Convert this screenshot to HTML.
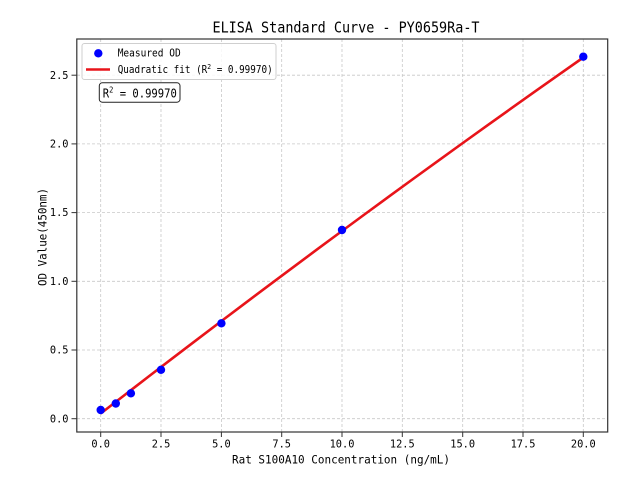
<!DOCTYPE html>
<html>
<head>
<meta charset="utf-8">
<style>
html,body{margin:0;padding:0;background:#fff;}
svg{display:block;}
text{font-family:"DejaVu Sans Mono","Liberation Mono",monospace;fill:#000;}
</style>
</head>
<body>
<svg width="640" height="480" viewBox="0 0 640 480" xmlns="http://www.w3.org/2000/svg">
<rect x="0" y="0" width="640" height="480" fill="#fff"/>
<!-- grid -->
<g stroke="#c8c8c8" stroke-width="0.8" stroke-dasharray="3,2" fill="none">
<line x1="100.7" y1="39" x2="100.7" y2="432"/>
<line x1="161.0" y1="39" x2="161.0" y2="432"/>
<line x1="221.4" y1="39" x2="221.4" y2="432"/>
<line x1="281.7" y1="39" x2="281.7" y2="432"/>
<line x1="342.0" y1="39" x2="342.0" y2="432"/>
<line x1="402.3" y1="39" x2="402.3" y2="432"/>
<line x1="462.7" y1="39" x2="462.7" y2="432"/>
<line x1="523.0" y1="39" x2="523.0" y2="432"/>
<line x1="583.3" y1="39" x2="583.3" y2="432"/>
<line x1="77" y1="418.7" x2="608" y2="418.7"/>
<line x1="77" y1="350.0" x2="608" y2="350.0"/>
<line x1="77" y1="281.3" x2="608" y2="281.3"/>
<line x1="77" y1="212.6" x2="608" y2="212.6"/>
<line x1="77" y1="143.9" x2="608" y2="143.9"/>
<line x1="77" y1="75.2" x2="608" y2="75.2"/>
</g>
<!-- fit curve -->
<polyline fill="none" stroke="#e8141a" stroke-width="2.6" stroke-linejoin="round" stroke-linecap="butt"
points="100.7,413.5 124.83,394.85 148.96,376.28 173.09,357.81 197.22,339.42 221.35,321.13 245.48,302.92 269.61,284.81 293.74,266.78 317.87,248.85 342.0,231.0 366.13,213.25 390.26,195.58 414.39,178.0 438.52,160.52 462.65,143.13 486.78,125.82 510.91,108.61 535.04,91.48 559.17,74.45 583.3,57.5"/>
<!-- points -->
<g fill="#0000ff">
<circle cx="100.7" cy="410" r="4.2"/>
<circle cx="115.8" cy="403.5" r="4.2"/>
<circle cx="130.9" cy="393.3" r="4.2"/>
<circle cx="161.0" cy="369.8" r="4.2"/>
<circle cx="221.4" cy="323.3" r="4.2"/>
<circle cx="342.0" cy="230.0" r="4.2"/>
<circle cx="583.3" cy="56.7" r="4.2"/>
</g>
<!-- spines -->
<rect x="76.8" y="39" width="530.9" height="393" fill="none" stroke="#333" stroke-width="1.2"/>
<!-- ticks -->
<g stroke="#333" stroke-width="1">
<line x1="100.7" y1="432" x2="100.7" y2="437"/>
<line x1="161.0" y1="432" x2="161.0" y2="437"/>
<line x1="221.4" y1="432" x2="221.4" y2="437"/>
<line x1="281.7" y1="432" x2="281.7" y2="437"/>
<line x1="342.0" y1="432" x2="342.0" y2="437"/>
<line x1="402.3" y1="432" x2="402.3" y2="437"/>
<line x1="462.7" y1="432" x2="462.7" y2="437"/>
<line x1="523.0" y1="432" x2="523.0" y2="437"/>
<line x1="583.3" y1="432" x2="583.3" y2="437"/>
<line x1="71.5" y1="418.7" x2="76.8" y2="418.7"/>
<line x1="71.5" y1="350.0" x2="76.8" y2="350.0"/>
<line x1="71.5" y1="281.3" x2="76.8" y2="281.3"/>
<line x1="71.5" y1="212.6" x2="76.8" y2="212.6"/>
<line x1="71.5" y1="143.9" x2="76.8" y2="143.9"/>
<line x1="71.5" y1="75.2" x2="76.8" y2="75.2"/>
</g>
<!-- x tick labels -->
<g font-size="10.3" text-anchor="middle">
<text x="100.7" y="447.5">0.0</text>
<text x="161.0" y="447.5">2.5</text>
<text x="221.4" y="447.5">5.0</text>
<text x="281.7" y="447.5">7.5</text>
<text x="342.0" y="447.5">10.0</text>
<text x="402.3" y="447.5">12.5</text>
<text x="462.7" y="447.5">15.0</text>
<text x="523.0" y="447.5">17.5</text>
<text x="583.3" y="447.5">20.0</text>
</g>
<!-- y tick labels -->
<g font-size="10.3" text-anchor="end">
<text x="68.5" y="422.3">0.0</text>
<text x="68.5" y="353.6">0.5</text>
<text x="68.5" y="284.9">1.0</text>
<text x="68.5" y="216.2">1.5</text>
<text x="68.5" y="147.5">2.0</text>
<text x="68.5" y="78.8">2.5</text>
</g>
<!-- axis labels -->
<text x="341" y="463.5" font-size="11.5" text-anchor="middle" textLength="218" lengthAdjust="spacingAndGlyphs">Rat S100A10 Concentration (ng/mL)</text>
<text transform="translate(46.3,237) rotate(-90)" font-size="11.5" text-anchor="middle" textLength="98" lengthAdjust="spacingAndGlyphs">OD Value(450nm)</text>
<!-- title -->
<text x="346" y="32.7" font-size="15.5" text-anchor="middle" textLength="267" lengthAdjust="spacingAndGlyphs">ELISA Standard Curve - PY0659Ra-T</text>
<!-- legend -->
<rect x="82" y="43.5" width="194" height="36" rx="2.5" ry="2.5" fill="#fff" fill-opacity="0.85" stroke="#cfcfcf" stroke-width="1"/>
<circle cx="98.3" cy="53.3" r="4.2" fill="#0000ff"/>
<line x1="86" y1="69.5" x2="110" y2="69.5" stroke="#e8141a" stroke-width="2.6"/>
<text x="117.7" y="56.5" font-size="10.3" textLength="63" lengthAdjust="spacingAndGlyphs">Measured OD</text>
<text x="117.7" y="73" font-size="10.3" textLength="155" lengthAdjust="spacingAndGlyphs">Quadratic fit (R<tspan font-size="7" dy="-3.8">2</tspan><tspan dy="3.8"> = 0.99970)</tspan></text>
<!-- R2 box -->
<rect x="99.3" y="82.8" width="80.7" height="19.4" rx="3" ry="3" fill="#fff" stroke="#222" stroke-width="1"/>
<text x="102.8" y="97.3" font-size="12" textLength="74" lengthAdjust="spacingAndGlyphs">R<tspan font-size="8" dy="-4.8">2</tspan><tspan dy="4.8"> = 0.99970</tspan></text>
</svg>
</body>
</html>
